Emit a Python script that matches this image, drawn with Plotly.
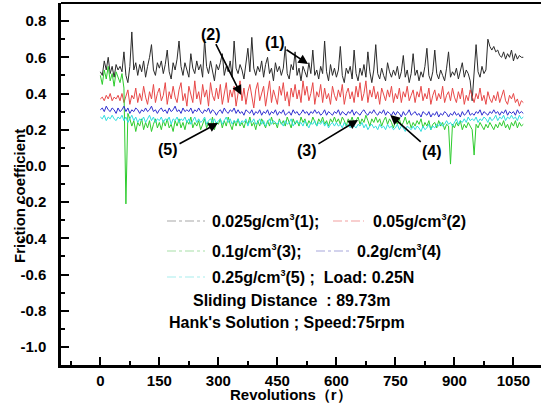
import plotly.graph_objects as go

STEP = 5
black_1 = [
    0.52, 0.50, 0.58, 0.53, 0.60, 0.51, 0.55, 0.49, 0.56, 0.53,
    0.55, 0.52, 0.63, 0.50, 0.46, 0.55, 0.74, 0.53, 0.57, 0.50,
    0.56, 0.52, 0.58, 0.49, 0.55, 0.60, 0.67, 0.53, 0.50, 0.57,
    0.54, 0.58, 0.51, 0.56, 0.64, 0.52, 0.48, 0.57, 0.53, 0.59,
    0.69, 0.55, 0.50, 0.57, 0.53, 0.49, 0.62, 0.54, 0.51, 0.58,
    0.53, 0.56, 0.49, 0.70, 0.55, 0.51, 0.58, 0.52, 0.47, 0.56,
    0.53, 0.57, 0.62, 0.50, 0.55, 0.52, 0.58, 0.49, 0.69, 0.54,
    0.51, 0.56, 0.53, 0.48, 0.57, 0.65, 0.52, 0.71, 0.54, 0.50,
    0.55, 0.52, 0.58, 0.49, 0.56, 0.60, 0.51, 0.54, 0.47, 0.57,
    0.52, 0.55, 0.50, 0.54, 0.66, 0.51, 0.48, 0.56, 0.53, 0.63,
    0.50, 0.54, 0.47, 0.55, 0.52, 0.49, 0.57, 0.51, 0.64, 0.50,
    0.53, 0.48, 0.55, 0.51, 0.69, 0.52, 0.47, 0.56, 0.50, 0.54,
    0.49, 0.53, 0.66, 0.50, 0.46, 0.54, 0.51, 0.55, 0.48, 0.64,
    0.51, 0.47, 0.54, 0.50, 0.56, 0.49, 0.63, 0.52, 0.46, 0.53,
    0.67, 0.51, 0.48, 0.54, 0.50, 0.47, 0.57, 0.52, 0.49, 0.53,
    0.50, 0.55, 0.48, 0.52, 0.61, 0.49, 0.53, 0.46, 0.51, 0.62,
    0.50, 0.53, 0.47, 0.52, 0.49, 0.55, 0.65, 0.50, 0.47, 0.52,
    0.64, 0.51, 0.48, 0.53, 0.50, 0.47, 0.54, 0.63, 0.49, 0.52,
    0.50, 0.54, 0.48, 0.52, 0.57, 0.49, 0.53, 0.51, 0.47, 0.36,
    0.50, 0.67, 0.52, 0.49, 0.55, 0.51, 0.53, 0.70, 0.66, 0.64,
    0.66, 0.63, 0.64, 0.61, 0.60, 0.63, 0.59, 0.62, 0.60, 0.64,
    0.58, 0.62, 0.59, 0.61, 0.60, 0.60,
]
red_2 = [
    0.37, 0.38, 0.36, 0.39, 0.37, 0.40, 0.36, 0.38, 0.37, 0.39,
    0.36, 0.40, 0.35, 0.38, 0.42, 0.34, 0.39, 0.37, 0.43, 0.35,
    0.40, 0.36, 0.44, 0.38, 0.34, 0.41, 0.37, 0.45, 0.35, 0.40,
    0.43, 0.36, 0.39, 0.46, 0.34, 0.41, 0.37, 0.44, 0.38, 0.35,
    0.42, 0.46, 0.36, 0.40, 0.33, 0.44, 0.39, 0.35, 0.47, 0.37,
    0.41, 0.34, 0.45, 0.38, 0.42, 0.33, 0.46, 0.39, 0.36, 0.43,
    0.37, 0.45, 0.34, 0.40, 0.46, 0.35, 0.42, 0.38, 0.44, 0.33,
    0.40, 0.47, 0.36, 0.43, 0.34, 0.41, 0.45, 0.37, 0.32, 0.42,
    0.46, 0.36, 0.40, 0.44, 0.33, 0.39, 0.47, 0.35, 0.42, 0.38,
    0.34, 0.44, 0.39, 0.46, 0.36, 0.41, 0.33, 0.43, 0.38, 0.45,
    0.37, 0.42, 0.35, 0.47, 0.39, 0.44, 0.36, 0.40, 0.46, 0.34,
    0.41, 0.38, 0.45, 0.35, 0.43, 0.37, 0.40, 0.34, 0.44, 0.39,
    0.36, 0.42, 0.38, 0.45, 0.34, 0.40, 0.43, 0.37, 0.41, 0.35,
    0.44, 0.38, 0.46, 0.36, 0.40, 0.47, 0.35, 0.42, 0.38, 0.44,
    0.37, 0.41, 0.34, 0.43, 0.39, 0.36, 0.42, 0.38, 0.44, 0.35,
    0.40, 0.37, 0.43, 0.35, 0.41, 0.38, 0.44, 0.36, 0.39, 0.42,
    0.35, 0.41, 0.38, 0.44, 0.36, 0.40, 0.37, 0.43, 0.34, 0.39,
    0.42, 0.36, 0.40, 0.37, 0.44, 0.35, 0.39, 0.41, 0.36, 0.43,
    0.38, 0.35, 0.41, 0.37, 0.43, 0.34, 0.39, 0.36, 0.42, 0.38,
    0.35, 0.40, 0.37, 0.43, 0.36, 0.39, 0.34, 0.41, 0.37, 0.35,
    0.39, 0.36, 0.41, 0.35, 0.38, 0.42, 0.36, 0.34, 0.39, 0.37,
    0.40, 0.35, 0.37, 0.33, 0.36, 0.35,
]
green_3 = [
    0.50, 0.45, 0.53, 0.48, 0.55, 0.47, 0.51, 0.44, 0.52, 0.49,
    0.46, 0.51, 0.43, -0.21, 0.29, 0.26, 0.22, 0.25, 0.19, 0.24,
    0.22, 0.26, 0.20, 0.24, 0.21, 0.25, 0.19, 0.23, 0.26, 0.21,
    0.24, 0.20, 0.25, 0.22, 0.26, 0.21, 0.23, 0.19, 0.25, 0.22,
    0.26, 0.21, 0.24, 0.20, 0.25, 0.23, 0.27, 0.21, 0.24, 0.22,
    0.25, 0.20, 0.23, 0.26, 0.21, 0.24, 0.22, 0.27, 0.20, 0.24,
    0.23, 0.26, 0.21, 0.25, 0.22, 0.27, 0.23, 0.20, 0.25, 0.22,
    0.26, 0.22, 0.24, 0.21, 0.25, 0.23, 0.27, 0.22, 0.24, 0.20,
    0.25, 0.22, 0.26, 0.23, 0.21, 0.25, 0.22, 0.27, 0.23, 0.24,
    0.21, 0.26, 0.23, 0.25, 0.22, 0.27, 0.24, 0.21, 0.26, 0.23,
    0.25, 0.22, 0.27, 0.24, 0.26, 0.22, 0.25, 0.23, 0.27, 0.24,
    0.22, 0.26, 0.24, 0.27, 0.23, 0.25, 0.22, 0.26, 0.24, 0.27,
    0.24, 0.26, 0.23, 0.27, 0.25, 0.22, 0.26, 0.24, 0.27, 0.23,
    0.25, 0.27, 0.23, 0.26, 0.24, 0.28, 0.25, 0.22, 0.26, 0.24,
    0.27, 0.24, 0.26, 0.22, 0.25, 0.27, 0.23, 0.26, 0.24, 0.21,
    0.25, 0.23, 0.26, 0.22, 0.24, 0.27, 0.23, 0.25, 0.21, 0.24,
    0.22, 0.25, 0.23, 0.26, 0.21, 0.24, 0.22, 0.25, 0.20, 0.23,
    0.24, 0.21, 0.25, 0.22, 0.24, 0.20, 0.23, 0.22, 0.01, 0.23,
    0.21, 0.24, 0.22, 0.25, 0.20, 0.23, 0.21, 0.24, 0.22, 0.20,
    0.06, 0.23, 0.21, 0.24, 0.22, 0.20, 0.23, 0.21, 0.24, 0.22,
    0.20, 0.23, 0.21, 0.24, 0.22, 0.25, 0.21, 0.23, 0.20, 0.24,
    0.22, 0.25, 0.21, 0.24, 0.22, 0.23,
]
blue_4 = [
    0.31, 0.32, 0.30, 0.33, 0.31, 0.30, 0.32, 0.31, 0.29, 0.32,
    0.30, 0.31, 0.33, 0.30, 0.32, 0.29, 0.31, 0.30, 0.32, 0.31,
    0.29, 0.31, 0.30, 0.32, 0.30, 0.31, 0.33, 0.30, 0.31, 0.29,
    0.31, 0.32, 0.30, 0.31, 0.29, 0.32, 0.30, 0.31, 0.33, 0.30,
    0.31, 0.29, 0.32, 0.30, 0.31, 0.30, 0.32, 0.29, 0.31, 0.30,
    0.32, 0.30, 0.29, 0.31, 0.30, 0.32, 0.29, 0.31, 0.30, 0.28,
    0.30, 0.31, 0.29, 0.32, 0.30, 0.29, 0.31, 0.30, 0.32, 0.29,
    0.31, 0.29, 0.30, 0.28, 0.31, 0.30, 0.29, 0.31, 0.28, 0.30,
    0.29, 0.31, 0.28, 0.30, 0.29, 0.31, 0.28, 0.30, 0.29, 0.31,
    0.28, 0.30, 0.29, 0.31, 0.28, 0.29, 0.30, 0.28, 0.31, 0.29,
    0.30, 0.28, 0.29, 0.31, 0.29, 0.30, 0.28, 0.30, 0.29, 0.31,
    0.29, 0.30, 0.28, 0.29, 0.31, 0.28, 0.30, 0.29, 0.28, 0.30,
    0.29, 0.31, 0.28, 0.30, 0.29, 0.28, 0.30, 0.29, 0.31, 0.28,
    0.30, 0.29, 0.28, 0.30, 0.31, 0.29, 0.28, 0.30, 0.29, 0.31,
    0.29, 0.28, 0.30, 0.29, 0.31, 0.28, 0.30, 0.29, 0.28, 0.30,
    0.28, 0.30, 0.29, 0.27, 0.30, 0.28, 0.29, 0.31, 0.28, 0.29,
    0.30, 0.28, 0.29, 0.27, 0.30, 0.29, 0.28, 0.30, 0.27, 0.29,
    0.28, 0.30, 0.27, 0.29, 0.28, 0.30, 0.29, 0.27, 0.29, 0.28,
    0.30, 0.28, 0.29, 0.27, 0.30, 0.28, 0.29, 0.31, 0.28, 0.29,
    0.28, 0.30, 0.29, 0.31, 0.28, 0.30, 0.29, 0.28, 0.30, 0.29,
    0.31, 0.29, 0.30, 0.28, 0.30, 0.29, 0.31, 0.28, 0.30, 0.29,
    0.30, 0.28, 0.31, 0.29, 0.30, 0.29,
]
cyan_5 = [
    0.27, 0.26, 0.28, 0.25, 0.27, 0.26, 0.28, 0.26, 0.25, 0.27,
    0.26, 0.28, 0.25, 0.27, 0.24, 0.26, 0.28, 0.25, 0.27, 0.24,
    0.26, 0.25, 0.27, 0.24, 0.26, 0.28, 0.25, 0.27, 0.24, 0.26,
    0.25, 0.27, 0.24, 0.26, 0.25, 0.27, 0.23, 0.26, 0.25, 0.27,
    0.24, 0.26, 0.25, 0.27, 0.24, 0.26, 0.23, 0.25, 0.27, 0.24,
    0.26, 0.24, 0.25, 0.27, 0.23, 0.25, 0.26, 0.24, 0.26, 0.23,
    0.25, 0.26, 0.23, 0.25, 0.27, 0.24, 0.26, 0.23, 0.25, 0.24,
    0.26, 0.23, 0.25, 0.24, 0.26, 0.22, 0.25, 0.24, 0.26, 0.23,
    0.24, 0.26, 0.23, 0.25, 0.22, 0.24, 0.26, 0.23, 0.25, 0.24,
    0.23, 0.25, 0.24, 0.22, 0.25, 0.23, 0.24, 0.26, 0.22, 0.24,
    0.25, 0.23, 0.24, 0.22, 0.25, 0.23, 0.21, 0.24, 0.23, 0.25,
    0.22, 0.24, 0.23, 0.25, 0.22, 0.24, 0.21, 0.23, 0.24, 0.22,
    0.24, 0.22, 0.23, 0.21, 0.24, 0.22, 0.23, 0.21, 0.24, 0.22,
    0.21, 0.23, 0.22, 0.24, 0.21, 0.23, 0.20, 0.22, 0.23, 0.21,
    0.22, 0.20, 0.23, 0.21, 0.22, 0.20, 0.23, 0.21, 0.22, 0.20,
    0.21, 0.23, 0.20, 0.22, 0.21, 0.19, 0.22, 0.21, 0.20, 0.22,
    0.20, 0.22, 0.21, 0.19, 0.22, 0.20, 0.21, 0.23, 0.20, 0.22,
    0.21, 0.23, 0.22, 0.24, 0.22, 0.23, 0.25, 0.23, 0.24, 0.22,
    0.24, 0.26, 0.23, 0.25, 0.24, 0.26, 0.24, 0.27, 0.25, 0.26,
    0.25, 0.27, 0.24, 0.26, 0.25, 0.27, 0.26, 0.24, 0.27, 0.25,
    0.26, 0.28, 0.25, 0.27, 0.26, 0.28, 0.25, 0.27, 0.26, 0.28,
    0.26, 0.27, 0.25, 0.28, 0.26, 0.27,
]

x_tick_vals = [0, 150, 300, 450, 600, 750, 900, 1050]
x_tick_text = ["0", "150", "300", "450", "600", "750", "900", "1050"]
y_tick_vals = [0.8, 0.6, 0.4, 0.2, 0.0, -0.2, -0.4, -0.6, -0.8, -1.0]
y_tick_text = ["0.8", "0.6", "0.4", "0.2", "0.0", "-0.2", "-0.4", "-0.6", "-0.8", "-1.0"]

series_names = ["0.025g/cm3(1)", "0.05g/cm3(2)", "0.1g/cm3(3)", "0.2g/cm3(4)", "0.25g/cm3(5)"]
series_values = [black_1, red_2, green_3, blue_4, cyan_5]
series_colors = ["#2b2b2b", "#e84848", "#2ecc2e", "#2f2fd0", "#30dede"]
legend_colors = ["#a8a8a8", "#f2a0a0", "#a8e0a8", "#a8a8dc", "#a8eeee"]

# ---------------- figure ----------------
W, H = 541, 408
ML, MR, MT, MB = 61, 0, 3, 43
FONT = "Liberation Sans, Arial, sans-serif"

fig = go.Figure()
for name, vals, col in zip(series_names, series_values, series_colors):
    fig.add_trace(go.Scatter(
        x=[i * STEP for i in range(len(vals))], y=vals, mode="lines", name=name,
        line=dict(color=col, width=1), showlegend=False, hoverinfo="skip"))

pw = W - ML - MR
ph = H - MT - MB


def px2paper(px):
    return (px - ML) / pw


def py2paper(py):
    return (H - MB - py) / ph


axis_font = dict(family=FONT, size=15, color="black", weight="bold")
fig.update_layout(
    width=W, height=H,
    margin=dict(l=ML, r=MR, t=MT, b=MB, autoexpand=False),
    paper_bgcolor="white", plot_bgcolor="white",
    font=dict(family=FONT, color="black"),
    xaxis=dict(range=[-100, 1120], showgrid=False, zeroline=False, automargin=False,
               showline=True, linecolor="black", linewidth=2.5,
               tickvals=x_tick_vals, ticktext=x_tick_text,
               ticks="inside", ticklen=8, tickwidth=2, tickcolor="black",
               minor=dict(dtick=75, tick0=0, ticks="inside", ticklen=4, tickwidth=2, tickcolor="black"),
               tickfont=axis_font, ticklabelstandoff=0),
    yaxis=dict(range=[-1.1, 0.9], showgrid=False, zeroline=False, automargin=False,
               showline=True, linecolor="black", linewidth=2.5,
               tickvals=y_tick_vals, ticktext=y_tick_text,
               ticks="inside", ticklen=8, tickwidth=2, tickcolor="black",
               minor=dict(dtick=0.1, tick0=0, ticks="inside", ticklen=4, tickwidth=2, tickcolor="black"),
               tickfont=axis_font, ticklabelstandoff=9),
)

shapes = [dict(type="line", xref="paper", yref="paper", x0=0, x1=1, y0=1, y1=1,
               line=dict(color="black", width=2))]
annotations = []

# axis titles
annotations.append(dict(text="Revolutions（r）", xref="paper", yref="paper",
                        x=px2paper(291), y=py2paper(395), showarrow=False,
                        xanchor="center", yanchor="middle",
                        font=dict(family=FONT, size=15, color="black", weight="bold")))
annotations.append(dict(text="Friction coefficient", xref="paper", yref="paper",
                        x=px2paper(19), y=py2paper(196), showarrow=False, textangle=-90,
                        xanchor="center", yanchor="middle",
                        font=dict(family=FONT, size=15, color="black", weight="bold")))

# curve labels with arrows: (label, text center (x, y), arrow tip (x, y)) in data units
curve_labels = [
    ("(1)", (444, 0.684), (528, 0.563)),
    ("(2)", (281, 0.728), (358, 0.392)),
    ("(5)", (172, 0.088), (299, 0.237)),
    ("(3)", (525, 0.083), (655, 0.254)),
    ("(4)", (843, 0.077), (737, 0.281)),
]
for lab, (tx, ty), (hx, hy) in curve_labels:
    annotations.append(dict(text=lab, x=hx, y=hy, ax=tx, ay=ty, xref="x", yref="y",
                            axref="x", ayref="y", showarrow=True, arrowhead=2,
                            arrowsize=1.2, arrowwidth=1.6, arrowcolor="black", standoff=0,
                            font=dict(family=FONT, size=16, color="black", weight="bold")))

# legend-like text block
lf = dict(family=FONT, size=16, color="black", weight="bold")
SUP3 = "<sup><span style='font-size:9px'>3</span></sup>"
legend_rows = [
    # (sample x0, x1, y, color index, text, text left)
    (167, 205, 221, 0, "0.025g/cm" + SUP3 + "(1);", 210),
    (333, 364, 221, 1, "0.05g/cm" + SUP3 + "(2)", 371),
    (167, 205, 251, 2, "0.1g/cm" + SUP3 + "(3);", 210),
    (316, 352, 251, 3, "0.2g/cm" + SUP3 + "(4)", 355),
    (167, 205, 277, 4, "0.25g/cm" + SUP3 + "(5) ;  Load: 0.25N", 210),
]
for x0, x1, yy, ci, txt, tl in legend_rows:
    shapes.append(dict(type="line", xref="paper", yref="paper",
                       x0=px2paper(x0), x1=px2paper(x1), y0=py2paper(yy), y1=py2paper(yy),
                       line=dict(color=legend_colors[ci], width=1.2, dash="dashdot")))
    annotations.append(dict(text=txt, xref="paper", yref="paper", x=px2paper(tl), y=py2paper(yy),
                            xanchor="left", yanchor="middle", showarrow=False, font=lf))
annotations.append(dict(text="Sliding Distance  : 89.73m", xref="paper", yref="paper",
                        x=px2paper(191), y=py2paper(300), xanchor="left", yanchor="middle",
                        showarrow=False, font=lf))
annotations.append(dict(text="Hank's Solution ; Speed:75rpm", xref="paper", yref="paper",
                        x=px2paper(167), y=py2paper(322), xanchor="left", yanchor="middle",
                        showarrow=False, font=lf))

fig.update_layout(shapes=shapes, annotations=annotations)
fig.write_html(
    "out.html",
    config={"displayModeBar": False},
    post_script="document.body.style.margin='0';document.body.style.overflow='hidden';",
)
